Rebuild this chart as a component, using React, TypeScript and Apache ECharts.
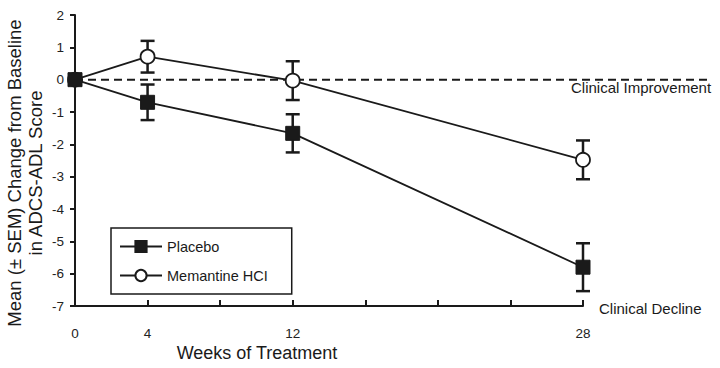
import React, { useEffect, useRef } from "react";
import * as echarts from "echarts";

const weeks = [0, 4, 12, 28];
const placeboMean = [0, -0.7, -1.66, -5.8];
const placeboSem = [0, 0.55, 0.59, 0.74];
const memantineMean = [0, 0.71, -0.03, -2.48];
const memantineSem = [0, 0.49, 0.6, 0.6];
const xTickLabels = [0, 4, 12, 28];
const seriesNames = ["Placebo", "Memantine HCI"];

const FONT = "Liberation Sans, Arial, Helvetica, sans-serif";
const INK = "#1a1a1a";

export default function App() {
  const ref = useRef<HTMLDivElement>(null);
  useEffect(() => {
    document.body.style.margin = "0";
    if (!ref.current) return;
    const chart = echarts.init(ref.current, undefined, { renderer: "svg" });

    const errData = (means: number[], sems: number[]) =>
      weeks
        .map((w, i) => [w, means[i] - sems[i], means[i] + sems[i]])
        .filter((d, i) => sems[i] > 0);

    const renderErr = (params: any, api: any) => {
      const lo = api.coord([api.value(0), api.value(1)]);
      const hi = api.coord([api.value(0), api.value(2)]);
      const cap = 7;
      const style = { stroke: INK, lineWidth: 2.5 };
      return {
        type: "group",
        children: [
          { type: "line", shape: { x1: lo[0], y1: lo[1], x2: hi[0], y2: hi[1] }, style },
          { type: "line", shape: { x1: lo[0] - cap, y1: lo[1], x2: lo[0] + cap, y2: lo[1] }, style },
          { type: "line", shape: { x1: hi[0] - cap, y1: hi[1], x2: hi[0] + cap, y2: hi[1] }, style },
        ],
      };
    };

    const baseGraphics: any[] = [
      {
        type: "text",
        x: 25,
        y: 173,
        rotation: Math.PI / 2,
        style: {
          text: "Mean (± SEM) Change from Baseline\nin ADCS-ADL Score",
          font: `18.5px ${FONT}`,
          fill: INK,
          align: "center",
          verticalAlign: "middle",
          lineHeight: 21,
        },
      },
      {
        type: "text",
        x: 257,
        y: 353,
        style: {
          text: "Weeks of Treatment",
          font: `18px ${FONT}`,
          fill: INK,
          align: "center",
          verticalAlign: "middle",
        },
      },
      {
        type: "text",
        x: 571,
        y: 87,
        style: {
          text: "Clinical Improvement",
          font: `15px ${FONT}`,
          fill: INK,
          align: "left",
          verticalAlign: "middle",
        },
      },
      {
        type: "text",
        x: 599,
        y: 308,
        style: {
          text: "Clinical Decline",
          font: `15px ${FONT}`,
          fill: INK,
          align: "left",
          verticalAlign: "middle",
        },
      },
    ];

    const option: any = {
      animation: false,
      backgroundColor: "#ffffff",
      grid: { left: 75, right: 137, top: 15, bottom: 62, containLabel: false },
      xAxis: {
        type: "value",
        min: 0,
        max: 28,
        interval: 4,
        axisLine: { onZero: false, lineStyle: { color: INK, width: 2 } },
        axisTick: { inside: true, length: 6, lineStyle: { color: INK, width: 2 } },
        splitLine: { show: false },
        axisLabel: {
          margin: 20,
          color: "#222",
          fontSize: 13.5,
          fontFamily: FONT,
          formatter: (v: number) => (xTickLabels.includes(v) ? String(v) : ""),
        },
      },
      yAxis: {
        type: "value",
        min: -7,
        max: 2,
        interval: 1,
        axisLine: { show: true, lineStyle: { color: INK, width: 2 } },
        axisTick: { show: true, length: 5, lineStyle: { color: INK, width: 2 } },
        splitLine: { show: false },
        axisLabel: { margin: 11, color: "#222", fontSize: 13.5, fontFamily: FONT },
      },
      legend: {
        data: seriesNames,
        orient: "vertical",
        left: 111,
        top: 228,
        borderColor: INK,
        borderWidth: 1.5,
        padding: [11, 24, 11, 8],
        itemWidth: 42,
        itemHeight: 14,
        itemGap: 14,
        textStyle: { fontSize: 14.5, color: INK, fontFamily: FONT },
      },
      series: [
        {
          type: "custom",
          name: "placebo-sem",
          renderItem: renderErr,
          data: errData(placeboMean, placeboSem),
          z: 1,
          silent: true,
        },
        {
          type: "custom",
          name: "memantine-sem",
          renderItem: renderErr,
          data: errData(memantineMean, memantineSem),
          z: 1,
          silent: true,
        },
        {
          type: "line",
          name: seriesNames[0],
          data: weeks.map((w, i) => [w, placeboMean[i]]),
          symbol: "rect",
          symbolSize: 14,
          lineStyle: { color: INK, width: 1.8 },
          itemStyle: { color: INK, borderColor: INK, borderWidth: 1 },
          z: 3,
        },
        {
          type: "line",
          name: seriesNames[1],
          data: weeks.map((w, i) => [w, memantineMean[i]]),
          symbol: "circle",
          symbolSize: 14,
          showAllSymbol: true,
          lineStyle: { color: INK, width: 1.8 },
          itemStyle: { color: "#ffffff", borderColor: INK, borderWidth: 1.8 },
          z: 2,
        },
      ],
      graphic: baseGraphics,
    };
    chart.setOption(option);

    const y0 = chart.convertToPixel({ yAxisIndex: 0 }, 0) as number;
    const x0 = chart.convertToPixel({ xAxisIndex: 0 }, 0) as number;
    chart.setOption({
      graphic: [
        ...baseGraphics,
        {
          type: "line",
          z: 0,
          shape: { x1: x0, y1: y0, x2: 712, y2: y0 },
          style: { stroke: INK, lineWidth: 2, lineDash: [8, 5] },
        },
      ],
    });

    return () => chart.dispose();
  }, []);

  return <div ref={ref} style={{ width: 720, height: 368 }} />;
}
